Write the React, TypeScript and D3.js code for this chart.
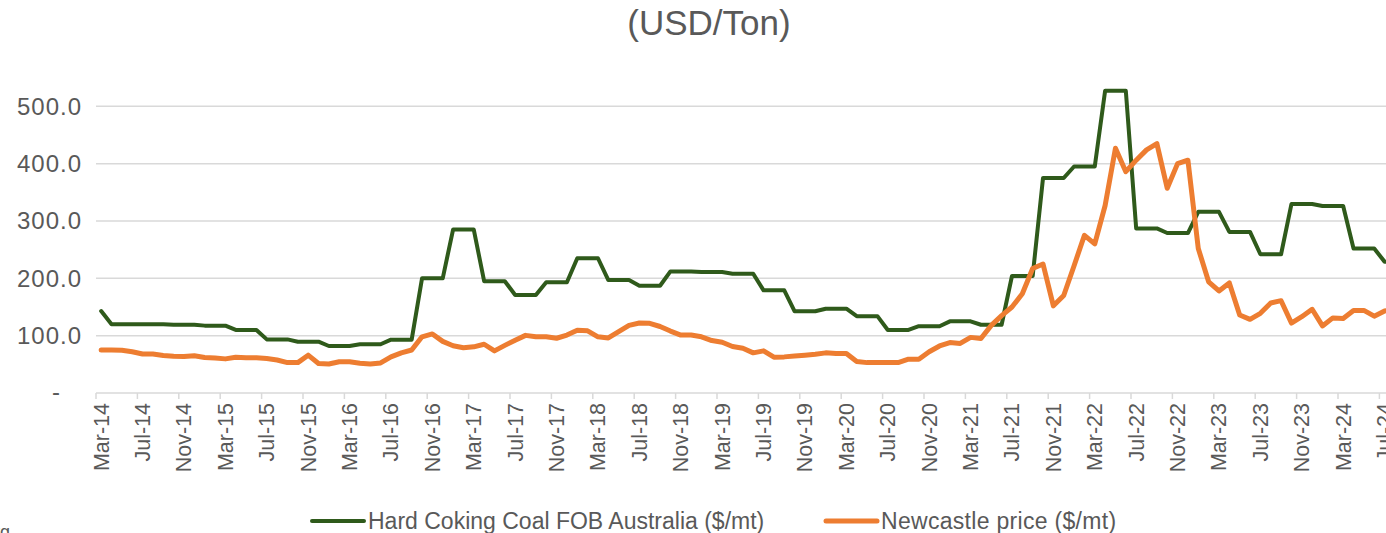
import React from "react";
import * as d3 from "d3";

// Monthly categories: Mar-14 .. Aug-24
const startMonth = new Date(2014, 2, 1);
const endMonth = new Date(2024, 8, 1);
const months: Date[] = d3.timeMonths(startMonth, endMonth);
const fmt = d3.timeFormat("%b-%y");
const categories: string[] = months.map((m) => fmt(m));

// Hard Coking Coal FOB Australia ($/mt)
const hardCoking: number[] = [
  143,
  120, 120, 120,
  120, 120, 120,
  119, 119, 119,
  117.5, 117.5, 117.5,
  110, 110, 110,
  93.5, 93.5, 93.5,
  89.5, 89.5, 89.5,
  82, 82, 82,
  85, 85, 85,
  93, 93, 93,
  200, 200, 200,
  285, 285, 285,
  195, 195, 195,
  171, 171, 171,
  193, 193, 193,
  235, 235, 235,
  197, 197, 197,
  187, 187, 187,
  212, 212, 212,
  211, 211, 211,
  208, 208, 208,
  179, 179, 179,
  142.5, 142.5, 142.5,
  147, 147, 147,
  134, 134, 134,
  110, 110, 110,
  116.5, 116.5, 116.5,
  125, 125, 125,
  119, 119, 119,
  204, 204, 204,
  375, 375, 375,
  395, 395, 395,
  527, 527, 527,
  287, 287, 287,
  279, 279, 279,
  316, 316, 316,
  281, 281, 281,
  242, 242, 242,
  329.5, 329.5, 329.5,
  326, 326, 326,
  252, 252, 252,
  229, 229,
];

// Newcastle price ($/mt)
const newcastle: number[] = [
  75, 75, 74.5, 72, 68, 68, 65.5, 64, 63.5, 65,
  62, 61, 59.5, 62.5, 61.5, 61.5, 60, 57.5, 53, 53,
  66, 51.5, 50.5, 54.5, 54.5, 52, 50.5, 52.5, 63, 70,
  75, 98, 103, 90, 82.5, 79, 80.5, 85, 73.5, 83,
  92, 100.5, 98, 98, 95.5, 101, 109.5, 108.5, 98, 96,
  107, 118, 122, 121.5, 116, 108, 101, 101, 98, 91.5,
  88.5, 81, 78, 70, 73.5, 62.5, 63, 64.5, 66, 67.5,
  70, 69, 69, 55, 53, 53, 53, 53, 59, 59,
  72, 82, 88, 86.5, 97, 95, 118, 135, 150, 173,
  217, 225, 152, 170, 222, 275, 260, 327, 427, 386,
  406, 424, 435, 357, 400, 406, 252, 194, 178, 192,
  136, 128.5, 139, 157, 161, 122, 133, 146, 117, 131,
  130, 144, 144, 134, 143, 147,
];

const yTicks: number[] = [0, 100, 200, 300, 400, 500];
const yTickLabels: string[] = ["-", "100.0", "200.0", "300.0", "400.0", "500.0"];

const seriesNames = ["Hard Coking Coal FOB Australia ($/mt)", "Newcastle price ($/mt)"];
const seriesColors = ["#2f5a1b", "#ed7d31"];

const FONT = "'Liberation Sans', Arial, sans-serif";
const TEXT = "#595959";
const GRID = "#d9d9d9";

export default function App() {
  const W = 1386;
  const H = 533;
  const step = 10.35;
  const x0 = 96;
  const x = d3
    .scaleBand<string>()
    .domain(categories)
    .range([x0, x0 + categories.length * step])
    .padding(0);
  const bw = x.bandwidth();
  const y = d3.scaleLinear().domain([0, 500]).range([393, 106.3]);

  const line = d3
    .line<number>()
    .x((_, i) => (x(categories[i]) as number) + bw / 2)
    .y((d) => y(d));

  const axisEnd = x0 + categories.length * step;

  return (
    <svg
      width={W}
      height={H}
      style={{ position: "absolute", left: 0, top: 0, background: "#fff" }}
      fontFamily={FONT}
    >
      <rect x={0} y={0} width={W} height={H} fill="#fff" />
      <text x={709} y={35} textAnchor="middle" fontSize={35} fill={TEXT}>
        (USD/Ton)
      </text>

      {/* gridlines */}
      {yTicks.map((t) =>
        t === 0 ? null : (
          <line key={t} x1={x0} x2={axisEnd} y1={y(t)} y2={y(t)} stroke={GRID} strokeWidth={1.5} />
        )
      )}
      {/* y labels */}
      {yTicks.map((t, i) =>
        t === 0 ? (
          <text key={t} x={56} y={y(t) + 7} textAnchor="middle" fontSize={24} fill={TEXT}>
            {yTickLabels[i]}
          </text>
        ) : (
          <text
            key={t}
            x={82}
            y={y(t) + 8.5}
            textAnchor="end"
            fontSize={24}
            letterSpacing={1}
            fill={TEXT}
          >
            {yTickLabels[i]}
          </text>
        )
      )}

      {/* x axis */}
      <line x1={x0} x2={axisEnd} y1={y(0)} y2={y(0)} stroke={GRID} strokeWidth={1.5} />
      {categories.map((c, i) =>
        i % 4 === 0 ? (
          <g key={c}>
            <line
              x1={x(c) as number}
              x2={x(c) as number}
              y1={y(0)}
              y2={y(0) + 6}
              stroke={GRID}
              strokeWidth={1.5}
            />
            <text
              transform={`translate(${(x(c) as number) + bw / 2 + 7.5},403) rotate(-90)`}
              textAnchor="end"
              fontSize={21.5}
              fill={TEXT}
            >
              {c}
            </text>
          </g>
        ) : null
      )}

      {/* series */}
      <path
        d={line(hardCoking) || ""}
        fill="none"
        stroke={seriesColors[0]}
        strokeWidth={4}
        strokeLinejoin="round"
        strokeLinecap="round"
      />
      <path
        d={line(newcastle) || ""}
        fill="none"
        stroke={seriesColors[1]}
        strokeWidth={5}
        strokeLinejoin="round"
        strokeLinecap="round"
      />

      {/* legend */}
      <line x1={312} x2={364} y1={521} y2={521} stroke={seriesColors[0]} strokeWidth={4} strokeLinecap="round" />
      <text x={368} y={529} fontSize={23} fill={TEXT}>
        {seriesNames[0]}
      </text>
      <line x1={826} x2={877} y1={521} y2={521} stroke={seriesColors[1]} strokeWidth={5} strokeLinecap="round" />
      <text x={881} y={529} fontSize={23} letterSpacing={0.3} fill={TEXT}>
        {seriesNames[1]}
      </text>

      <text x={10} y={538} textAnchor="end" fontSize={18} fill={TEXT}>
        Source: Bloomberg
      </text>
    </svg>
  );
}
